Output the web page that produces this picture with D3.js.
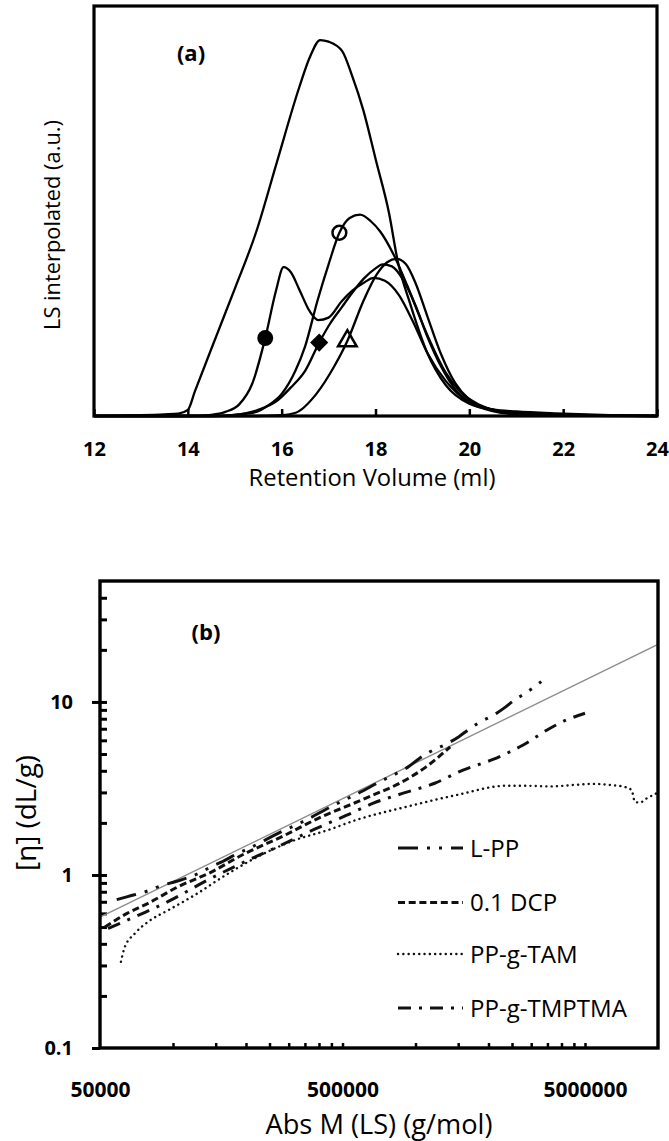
<!DOCTYPE html>
<html>
<head>
<meta charset="utf-8">
<script src="https://cdn.jsdelivr.net/npm/d3@7"></script>
<style>
  html, body { margin: 0; padding: 0; background: #fff; }
  svg { display: block; }
</style>
</head>
<body>
<svg id="fig" width="669" height="1141"></svg>
<script>
// ---------------- Panel (a): interpolated LS traces vs retention volume ----------------
const rvTicks = [12, 14, 16, 18, 20, 22, 24];

// broad unimodal trace (no marker)
const rvBroad = [12, 12.5, 13, 13.5, 13.8, 14.0, 14.15, 14.59, 15.0, 15.46, 15.9, 16.37, 16.6, 16.82, 17.0, 17.29, 17.5, 17.74, 18.01, 18.29, 18.47, 18.75, 19.1, 19.5, 20.0, 20.5, 21, 22, 23, 24];
const lsBroad = [0, 0.1, 0.2, 0.4, 0.6, 1.5, 6, 19, 31, 45, 62, 80, 87.5, 91.7, 91.3, 89, 83, 74.6, 62.3, 49.4, 38, 27, 15.5, 7.5, 3, 1.6, 1.1, 0.6, 0.2, 0];

// bimodal trace (filled circle)
const rvBimodal = [12, 14, 14.5, 14.8, 15.1, 15.37, 15.65, 15.88, 16.04, 16.2, 16.37, 16.6, 16.78, 17.0, 17.28, 17.5, 17.75, 17.96, 18.2, 18.5, 18.8, 19.1, 19.5, 20.0, 20.5, 21, 22, 24];
const lsBimodal = [0, 0, 0.3, 1, 2.9, 7.8, 19, 30.6, 36.3, 35, 31, 25.5, 23.4, 24, 28, 30.5, 32.5, 33.7, 33, 29.5, 23, 15.5, 8.5, 3.3, 1.2, 0.4, 0.1, 0];

// trace with open circle
const rvRing = [12, 14.5, 15.0, 15.46, 15.7, 16.0, 16.29, 16.5, 16.76, 17.0, 17.23, 17.45, 17.67, 17.9, 18.1, 18.38, 18.67, 18.95, 19.16, 19.5, 19.8, 20.2, 20.6, 21, 22, 23, 24];
const lsRing = [0, 0, 0.3, 1, 2.5, 5.4, 11, 17, 28, 37, 44.7, 48.3, 49.1, 47.5, 45, 39.5, 32, 24, 18.3, 10.5, 6, 2.8, 1.3, 0.7, 0.3, 0.1, 0];

// trace with filled diamond
const rvDiamond = [12, 14.5, 15.0, 15.5, 15.9, 16.2, 16.5, 16.8, 17.03, 17.28, 17.5, 17.75, 18.0, 18.15, 18.35, 18.6, 18.85, 19.1, 19.4, 19.7, 20.0, 20.5, 21, 22, 24];
const lsDiamond = [0, 0, 0.3, 1.5, 3.7, 7, 11, 17.9, 22.5, 26.5, 30, 33.5, 36, 37, 36.5, 33, 27, 19.5, 12, 6.5, 3.5, 1.5, 0.7, 0.3, 0];

// trace with open triangle
const rvTriangle = [12, 15.5, 16.0, 16.3, 16.74, 17.1, 17.4, 17.74, 18.03, 18.25, 18.45, 18.65, 18.85, 19.1, 19.4, 19.7, 20.0, 20.5, 21, 22, 24];
const lsTriangle = [0, 0, 0.2, 0.8, 5.4, 11.7, 18.3, 28, 34.6, 37.5, 38.3, 37, 32.5, 24.5, 15, 8, 4, 1.5, 0.5, 0.1, 0];

// symbols placed on the traces
const markRV = [15.65, 17.23, 16.8, 17.4];
const markLS = [19, 44.7, 17.9, 18.3];
const markKind = ["dot", "ring", "diamond", "triangle"];

// ---------------- Panel (b): intrinsic viscosity vs absolute molar mass ----------------
const mTicks = [50000, 500000, 5000000];
const mTickLabels = ["50000", "500000", "5000000"];
const mMinorTicks = [100000, 150000, 200000, 250000, 300000, 350000, 400000, 450000, 500000,
                     1000000, 1500000, 2000000, 2500000, 3000000, 3500000, 4000000, 4500000, 5000000];
const etaTicks = [0.1, 1, 10];
const etaTickLabels = ["0.1", "1", "10"];
const etaMinorTicks = [0.2, 0.3, 0.4, 0.5, 0.6, 0.7, 0.8, 0.9, 1, 2, 3, 4, 5, 6, 7, 8, 9, 10, 20, 30, 40];

// straight reference line (grey)
const refM = [50000, 10000000];
const refEta = [0.57, 21.5];

const lppM = [58600, 65000, 79000, 88000, 98000, 109000, 131000, 144000, 161000, 175000, 211000, 280000, 340000, 465000, 563000, 736000, 864000, 930000, 1040000, 1150000, 1360000, 1510000, 1650000, 1790000, 2160000, 2340000, 2570000, 2830000, 3300000];
const lppEta = [0.72, 0.75, 0.81, 0.86, 0.90, 0.94, 1.04, 1.12, 1.2, 1.28, 1.45, 1.78, 2.02, 2.55, 2.9, 3.54, 3.96, 4.2, 4.73, 5.16, 5.77, 6.3, 6.9, 7.46, 8.6, 9.3, 10.3, 11.2, 13.1];

const dcpM = [52400, 64700, 79000, 105000, 140000, 198000, 280000, 410000, 540000, 670000, 860000, 1110000, 1390000];
const dcpEta = [0.50, 0.60, 0.686, 0.855, 1.02, 1.33, 1.66, 2.17, 2.55, 2.9, 3.39, 4.23, 5.5];

const tamM = [61000, 63000, 69700, 79000, 96000, 123000, 169000, 232000, 318000, 437000, 570000, 920000, 1480000, 2380000, 2780000, 3600000, 4480000, 5400000, 6500000, 7200000, 7780000, 8030000, 8400000, 8980000, 9880000];
const tamEta = [0.315, 0.377, 0.46, 0.537, 0.628, 0.766, 1.02, 1.31, 1.59, 1.82, 2.08, 2.48, 2.9, 3.28, 3.28, 3.25, 3.31, 3.36, 3.3, 3.24, 3.1, 2.65, 2.62, 2.77, 2.97];

const tmpM = [54000, 73000, 97000, 135000, 192000, 280000, 384000, 515000, 670000, 890000, 1200000, 1570000, 2100000, 2780000, 3590000, 4200000, 5000000];
const tmpEta = [0.49, 0.59, 0.71, 0.915, 1.17, 1.49, 1.84, 2.2, 2.6, 2.97, 3.39, 4.04, 4.67, 5.64, 7.05, 7.87, 8.6];

const seriesNames = ["L-PP", "0.1 DCP", "PP-g-TAM", "PP-g-TMPTMA"];

// ---------------------------------------------------------------------------------------
const FONT = "'Open Sans', 'DejaVu Sans', sans-serif";
const INK = "#000";
const svg = d3.select("#fig");
const zip = (a, b) => a.map((v, i) => [v, b[i]]);

function fitWidth(sel, target) {
  const w = sel.node().getComputedTextLength();
  const fs = parseFloat(sel.attr("font-size"));
  sel.attr("font-size", (fs * target / w).toFixed(2));
}

// ---------- panel (a) ----------
const A = { left: 94, right: 657, top: 6, bottom: 416 };
const xA = d3.scaleLinear().domain([12, 24]).range([A.left, A.right]);
const yA = d3.scaleLinear().domain([0, 100]).range([A.bottom, A.top]);

const gA = svg.append("g");

gA.append("g")
  .attr("transform", `translate(0,${A.bottom})`)
  .call(d3.axisBottom(xA).tickValues(rvTicks).tickFormat(d3.format("d"))
        .tickSizeInner(-7).tickSizeOuter(0).tickPadding(26))
  .call(g => {
    g.select(".domain").remove();
    g.selectAll(".tick line").attr("stroke", INK).attr("stroke-width", 2.5);
    g.selectAll(".tick text").attr("font-family", FONT).attr("font-size", 20)
      .attr("font-weight", 700).attr("fill", INK);
  });

const lineA = d3.line().x(d => xA(d[0])).y(d => yA(d[1])).curve(d3.curveMonotoneX);
const tracesA = [zip(rvBroad, lsBroad), zip(rvBimodal, lsBimodal), zip(rvRing, lsRing),
                 zip(rvDiamond, lsDiamond), zip(rvTriangle, lsTriangle)];
gA.append("g").selectAll("path").data(tracesA).join("path")
  .attr("d", lineA).attr("fill", "none").attr("stroke", INK)
  .attr("stroke-width", 2.3).attr("stroke-linejoin", "round");

const symbolFor = {
  dot:      { type: d3.symbolCircle,   size: 200, fill: INK,    stroke: "none", rot: 0 },
  ring:     { type: d3.symbolCircle,   size: 150, fill: "none", stroke: INK,    rot: 0 },
  diamond:  { type: d3.symbolSquare,   size: 165, fill: INK,    stroke: "none", rot: 45 },
  triangle: { type: d3.symbolTriangle, size: 150, fill: "none", stroke: INK,    rot: 0 }
};
gA.append("g").selectAll("path").data(markKind.map((k, i) => ({ k, x: markRV[i], y: markLS[i] })))
  .join("path")
  .attr("transform", d => `translate(${xA(d.x)},${yA(d.y)}) rotate(${symbolFor[d.k].rot})`)
  .attr("d", d => d3.symbol(symbolFor[d.k].type, symbolFor[d.k].size)())
  .attr("fill", d => symbolFor[d.k].fill)
  .attr("stroke", d => symbolFor[d.k].stroke)
  .attr("stroke-width", 2.5);

gA.append("rect")
  .attr("x", A.left).attr("y", A.top)
  .attr("width", A.right - A.left).attr("height", A.bottom - A.top)
  .attr("fill", "none").attr("stroke", INK).attr("stroke-width", 3.2);

gA.append("text").text("(a)")
  .attr("x", 191).attr("y", 61).attr("text-anchor", "middle")
  .attr("font-family", FONT).attr("font-weight", 700).attr("font-size", 22).attr("fill", INK);

const xTitleA = gA.append("text").text("Retention Volume (ml)")
  .attr("x", 372).attr("y", 486).attr("text-anchor", "middle")
  .attr("font-family", FONT).attr("font-size", 20).attr("fill", INK);
fitWidth(xTitleA, 247);

const yTitleA = gA.append("text").text("LS interpolated (a.u.)")
  .attr("transform", "translate(60,225) rotate(-90)").attr("text-anchor", "middle")
  .attr("font-family", FONT).attr("font-size", 18).attr("fill", INK);
fitWidth(yTitleA, 210);

// ---------- panel (b) ----------
const B = { left: 100, right: 658, top: 581, bottom: 1048 };
const xB = d3.scaleLog().domain([50000, 10000000]).range([B.left, B.right]);
const yB = d3.scaleLog().domain([0.1, 50]).range([B.bottom, B.top]);

const gB = svg.append("g");

// inward minor ticks on the M axis
gB.append("g")
  .attr("transform", `translate(0,${B.bottom})`)
  .call(d3.axisBottom(xB).tickValues(mMinorTicks).tickFormat("").tickSizeInner(-5).tickSizeOuter(0))
  .call(g => { g.select(".domain").remove(); g.selectAll(".tick line").attr("stroke", INK).attr("stroke-width", 2.5); });

// labelled M ticks
gB.append("g")
  .attr("transform", `translate(0,${B.bottom})`)
  .call(d3.axisBottom(xB).tickValues(mTicks).tickFormat((d, i) => mTickLabels[i])
        .tickSize(0).tickPadding(34))
  .call(g => {
    g.select(".domain").remove();
    g.selectAll(".tick text").attr("font-family", FONT).attr("font-size", 21)
      .attr("font-weight", 700).attr("fill", INK);
  });

// inward minor ticks on the viscosity axis
gB.append("g")
  .attr("transform", `translate(${B.left},0)`)
  .call(d3.axisRight(yB).tickValues(etaMinorTicks).tickFormat("").tickSizeInner(7).tickSizeOuter(0))
  .call(g => { g.select(".domain").remove(); g.selectAll(".tick line").attr("stroke", INK).attr("stroke-width", 3); });

// labelled viscosity ticks (outward)
gB.append("g")
  .attr("transform", `translate(${B.left},0)`)
  .call(d3.axisLeft(yB).tickValues(etaTicks).tickFormat((d, i) => etaTickLabels[i])
        .tickSizeInner(8).tickSizeOuter(0).tickPadding(19))
  .call(g => {
    g.select(".domain").remove();
    g.selectAll(".tick line").attr("stroke", INK).attr("stroke-width", 3);
    g.selectAll(".tick text").attr("font-family", FONT).attr("font-size", 20)
      .attr("font-weight", 700).attr("fill", INK);
  });

const lineB = d3.line().x(d => xB(d[0])).y(d => yB(d[1])).curve(d3.curveMonotoneX);

gB.append("path").datum(zip(refM, refEta))
  .attr("d", d3.line().x(d => xB(d[0])).y(d => yB(d[1])))
  .attr("fill", "none").attr("stroke", "#8c8c8c").attr("stroke-width", 1.4);

const seriesStyle = [
  { dash: "20,9,3,9,3,9", width: 3, cap: "butt" },
  { dash: "7,3.7", width: 3, cap: "butt" },
  { dash: "0.1,5.2", width: 2.4, cap: "round" },
  { dash: "13,8,3,8", width: 3, cap: "butt" }
];
const seriesB = [zip(lppM, lppEta), zip(dcpM, dcpEta), zip(tamM, tamEta), zip(tmpM, tmpEta)]
  .map((pts, i) => ({ name: seriesNames[i], pts, ...seriesStyle[i] }));

gB.append("g").selectAll("path").data(seriesB).join("path")
  .attr("d", d => lineB(d.pts))
  .attr("fill", "none").attr("stroke", "#111")
  .attr("stroke-width", d => d.width)
  .attr("stroke-dasharray", d => d.dash)
  .attr("stroke-linecap", d => d.cap);

// legend
const legendRowY = [848, 902.5, 954, 1008];
const legend = gB.append("g").selectAll("g").data(seriesB).join("g")
  .attr("transform", (d, i) => `translate(0,${legendRowY[i]})`);
legend.append("line")
  .attr("x1", 398).attr("x2", 463).attr("y1", 0).attr("y2", 0)
  .attr("stroke", "#111")
  .attr("stroke-width", d => d.width)
  .attr("stroke-dasharray", d => d.dash)
  .attr("stroke-linecap", d => d.cap);
const legendText = legend.append("text").text(d => d.name)
  .attr("x", 470).attr("y", 8.5)
  .attr("font-family", FONT).attr("font-size", 22).attr("fill", INK);
{
  const ref = legendText.filter(d => d.name === "PP-g-TMPTMA");
  const w = ref.node().getComputedTextLength();
  legendText.attr("font-size", (22 * 157 / w).toFixed(2));
}

gB.append("rect")
  .attr("x", B.left).attr("y", B.top)
  .attr("width", B.right - B.left).attr("height", B.bottom - B.top)
  .attr("fill", "none").attr("stroke", INK).attr("stroke-width", 3.4);

gB.append("text").text("(b)")
  .attr("x", 206).attr("y", 640).attr("text-anchor", "middle")
  .attr("font-family", FONT).attr("font-weight", 700).attr("font-size", 22).attr("fill", INK);

const xTitleB = gB.append("text").text("Abs M (LS) (g/mol)")
  .attr("x", 379).attr("y", 1134).attr("text-anchor", "middle")
  .attr("font-family", FONT).attr("font-size", 22).attr("fill", INK);
fitWidth(xTitleB, 227);

const yTitleB = gB.append("text").text("[η] (dL/g)")
  .attr("transform", "translate(36,813) rotate(-90)").attr("text-anchor", "middle")
  .attr("font-family", FONT).attr("font-size", 22).attr("fill", INK);
fitWidth(yTitleB, 116);
</script>
</body>
</html>
